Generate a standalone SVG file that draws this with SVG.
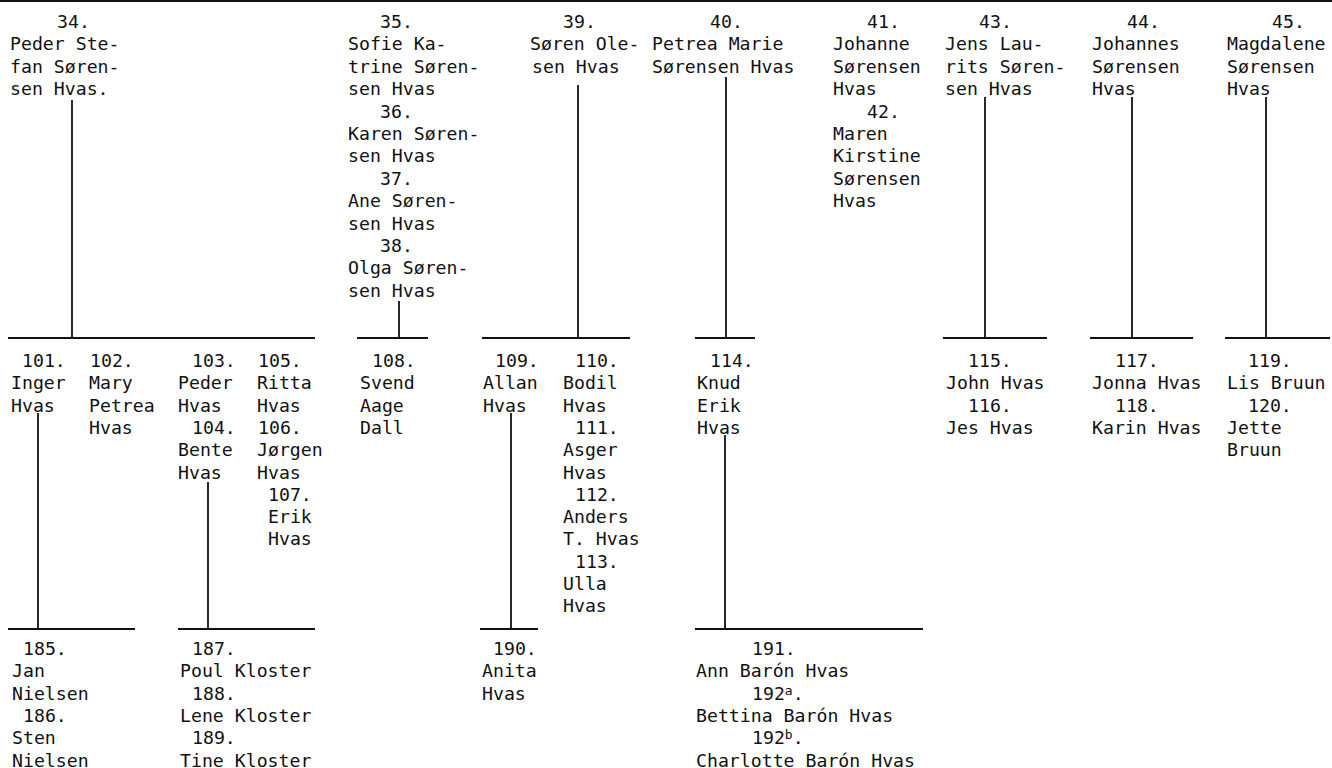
<svg xmlns="http://www.w3.org/2000/svg" width="1332" height="768" viewBox="0 0 1332 768">
<style>
text{font-family:"DejaVu Sans Mono","Liberation Mono",monospace;font-size:18.2px;fill:#111}
.c line{stroke:#111;stroke-width:1.8}
.sup{font-size:13px}
</style>
<rect width="1332" height="768" fill="#fff"/>
<g class="c" id="connectors">
<line x1="0" y1="1" x2="1332" y2="1" stroke-width="2.5"/>
<line x1="72" y1="100" x2="72" y2="338"/>
<line x1="399" y1="301" x2="399" y2="338"/>
<line x1="578" y1="85" x2="578" y2="338"/>
<line x1="726" y1="77" x2="726" y2="338"/>
<line x1="985" y1="97" x2="985" y2="338"/>
<line x1="1132" y1="97" x2="1132" y2="338"/>
<line x1="1266" y1="97" x2="1266" y2="338"/>
<line x1="8" y1="338" x2="315" y2="338"/>
<line x1="357" y1="338" x2="428" y2="338"/>
<line x1="482" y1="338" x2="630" y2="338"/>
<line x1="695" y1="338" x2="755" y2="338"/>
<line x1="943" y1="338" x2="1047" y2="338"/>
<line x1="1090" y1="338" x2="1193" y2="338"/>
<line x1="1225" y1="338" x2="1330" y2="338"/>
<line x1="38" y1="413" x2="38" y2="629"/>
<line x1="208" y1="482" x2="208" y2="629"/>
<line x1="511" y1="413" x2="511" y2="629"/>
<line x1="725" y1="435" x2="725" y2="629"/>
<line x1="8" y1="629" x2="135" y2="629"/>
<line x1="178" y1="629" x2="315" y2="629"/>
<line x1="480" y1="629" x2="538" y2="629"/>
<line x1="695" y1="629" x2="923" y2="629"/>
</g>
<g id="n34"><text x="57" y="28">34.</text><text x="10" y="50.4">Peder Ste-</text><text x="10" y="72.8">fan Søren-</text><text x="10" y="95.2">sen Hvas.</text></g>
<g id="n35-38">
<text x="380" y="28">35.</text><text x="348" y="50.4">Sofie Ka-</text><text x="348" y="72.8">trine Søren-</text><text x="348" y="95.2">sen Hvas</text>
<text x="380" y="117.6">36.</text><text x="348" y="140">Karen Søren-</text><text x="348" y="162.4">sen Hvas</text>
<text x="380" y="184.8">37.</text><text x="348" y="207.2">Ane Søren-</text><text x="348" y="229.6">sen Hvas</text>
<text x="380" y="252">38.</text><text x="348" y="274.4">Olga Søren-</text><text x="348" y="296.8">sen Hvas</text>
</g>
<g id="n39"><text x="563" y="28">39.</text><text x="530" y="50.4">Søren Ole-</text><text x="532" y="72.8">sen Hvas</text></g>
<g id="n40"><text x="710" y="28">40.</text><text x="652" y="50.4">Petrea Marie</text><text x="652" y="72.8">Sørensen Hvas</text></g>
<g id="n41-42">
<text x="867" y="28">41.</text><text x="833" y="50.4">Johanne</text><text x="833" y="72.8">Sørensen</text><text x="833" y="95.2">Hvas</text>
<text x="867" y="117.6">42.</text><text x="833" y="140">Maren</text><text x="833" y="162.4">Kirstine</text><text x="833" y="184.8">Sørensen</text><text x="833" y="207.2">Hvas</text>
</g>
<g id="n43"><text x="979" y="28">43.</text><text x="945" y="50.4">Jens Lau-</text><text x="945" y="72.8">rits Søren-</text><text x="945" y="95.2">sen Hvas</text></g>
<g id="n44"><text x="1127" y="28">44.</text><text x="1092" y="50.4">Johannes</text><text x="1092" y="72.8">Sørensen</text><text x="1092" y="95.2">Hvas</text></g>
<g id="n45"><text x="1272" y="28">45.</text><text x="1227" y="50.4">Magdalene</text><text x="1227" y="72.8">Sørensen</text><text x="1227" y="95.2">Hvas</text></g>
<g id="n101"><text x="22" y="367">101.</text><text x="11" y="389.3">Inger</text><text x="11" y="411.6">Hvas</text></g>
<g id="n102"><text x="90" y="367">102.</text><text x="89" y="389.3">Mary</text><text x="89" y="411.6">Petrea</text><text x="89" y="433.9">Hvas</text></g>
<g id="n103-104"><text x="192" y="367">103.</text><text x="178" y="389.3">Peder</text><text x="178" y="411.6">Hvas</text><text x="192" y="433.9">104.</text><text x="178" y="456.2">Bente</text><text x="178" y="478.5">Hvas</text></g>
<g id="n105-107"><text x="258" y="367">105.</text><text x="257" y="389.3">Ritta</text><text x="257" y="411.6">Hvas</text><text x="258" y="433.9">106.</text><text x="257" y="456.2">Jørgen</text><text x="257" y="478.5">Hvas</text><text x="268" y="500.8">107.</text><text x="268" y="523.1">Erik</text><text x="268" y="545.4">Hvas</text></g>
<g id="n108"><text x="372" y="367">108.</text><text x="360" y="389.3">Svend</text><text x="360" y="411.6">Aage</text><text x="360" y="433.9">Dall</text></g>
<g id="n109"><text x="495" y="367">109.</text><text x="483" y="389.3">Allan</text><text x="483" y="411.6">Hvas</text></g>
<g id="n110-113"><text x="575" y="367">110.</text><text x="563" y="389.3">Bodil</text><text x="563" y="411.6">Hvas</text><text x="575" y="433.9">111.</text><text x="563" y="456.2">Asger</text><text x="563" y="478.5">Hvas</text><text x="575" y="500.8">112.</text><text x="563" y="523.1">Anders</text><text x="563" y="545.4">T. Hvas</text><text x="575" y="567.7">113.</text><text x="563" y="590">Ulla</text><text x="563" y="612.3">Hvas</text></g>
<g id="n114"><text x="710" y="367">114.</text><text x="697" y="389.3">Knud</text><text x="697" y="411.6">Erik</text><text x="697" y="433.9">Hvas</text></g>
<g id="n115-116"><text x="968" y="367">115.</text><text x="946" y="389.3">John Hvas</text><text x="968" y="411.6">116.</text><text x="946" y="433.9">Jes Hvas</text></g>
<g id="n117-118"><text x="1115" y="367">117.</text><text x="1092" y="389.3">Jonna Hvas</text><text x="1115" y="411.6">118.</text><text x="1092" y="433.9">Karin Hvas</text></g>
<g id="n119-120"><text x="1248" y="367">119.</text><text x="1227" y="389.3">Lis Bruun</text><text x="1248" y="411.6">120.</text><text x="1227" y="433.9">Jette</text><text x="1227" y="456.2">Bruun</text></g>
<g id="n185-186"><text x="23" y="655">185.</text><text x="12" y="677.3">Jan</text><text x="12" y="699.6">Nielsen</text><text x="23" y="721.9">186.</text><text x="12" y="744.2">Sten</text><text x="12" y="766.5">Nielsen</text></g>
<g id="n187-189"><text x="192" y="655">187.</text><text x="180" y="677.3">Poul Kloster</text><text x="192" y="699.6">188.</text><text x="180" y="721.9">Lene Kloster</text><text x="192" y="744.2">189.</text><text x="180" y="766.5">Tine Kloster</text></g>
<g id="n190"><text x="493" y="655">190.</text><text x="482" y="677.3">Anita</text><text x="482" y="699.6">Hvas</text></g>
<g id="n191-192"><text x="752" y="655">191.</text><text x="696" y="677.3">Ann Barón Hvas</text><text x="752" y="699.6">192<tspan class="sup" dy="-5">a</tspan><tspan dy="5">.</tspan></text><text x="696" y="721.9">Bettina Barón Hvas</text><text x="752" y="744.2">192<tspan class="sup" dy="-5">b</tspan><tspan dy="5">.</tspan></text><text x="696" y="766.5">Charlotte Barón Hvas</text></g>
</svg>
